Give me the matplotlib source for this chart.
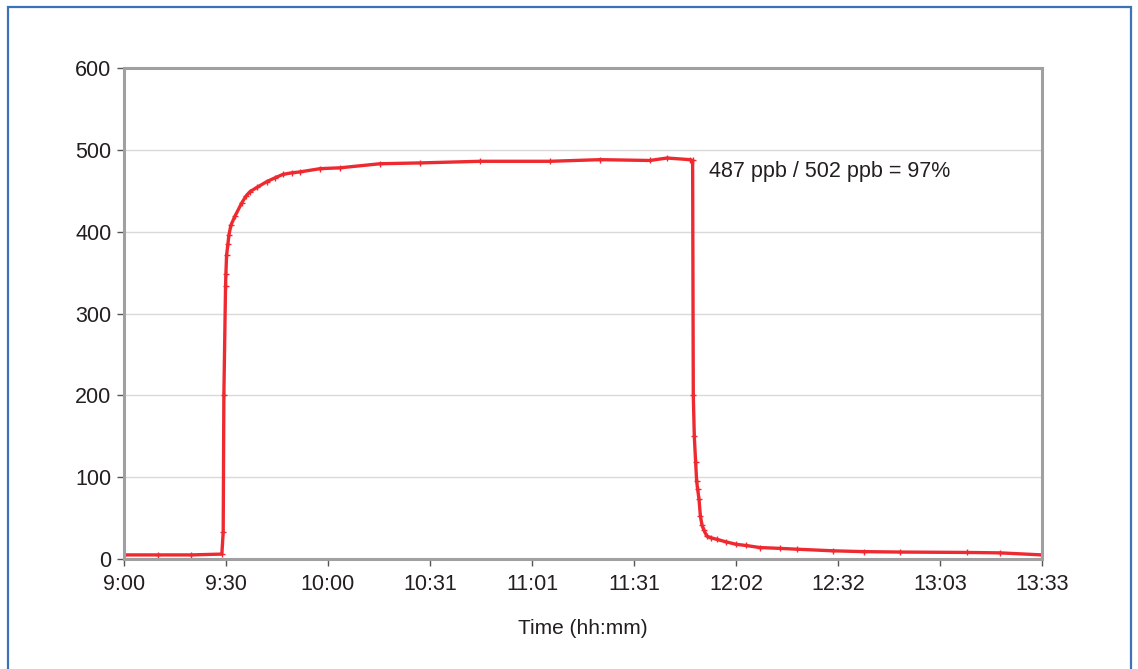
import matplotlib.pyplot as plt
import matplotlib.patches as patches
import numpy as np

# Data: minutes after 9:00 and concentration (ppb)
minutes = [0, 10, 20, 29.1, 29.5, 29.7, 30.2, 30.3, 30.5, 30.9, 31.2, 31.8,
           33.0, 35.0, 36.2, 37.5, 39.5, 42.4, 45.0, 47.3, 50.0, 52.3, 58.3,
           64.2, 76.1, 88.0, 105.9, 126.7, 141.6, 156.4, 161.5, 168.3, 169.1,
           169.3, 169.6, 170.0, 170.3, 170.6, 171.0, 171.4, 171.9, 172.5,
           173.3, 174.5, 176.3, 179.0, 182.0, 185.0, 189.1, 195.0, 200.0,
           210.8, 220.0, 230.8, 250.7, 260.5, 273]
ppb = [5, 5, 5, 6, 33, 200, 334, 348, 371, 385, 396, 408,
       419, 435, 443, 449, 454, 461, 466, 470, 472, 473, 477,
       478, 483, 484, 486, 486, 488, 487, 490, 488, 487,
       200, 150, 118, 95, 85, 73, 53, 41, 35,
       28, 26, 24, 21, 18, 16.5, 14, 13, 12,
       10, 9, 8.5, 8, 7.5, 5]

tick_labels = ['9:00', '9:30', '10:00', '10:31', '11:01', '11:31',
               '12:02', '12:32', '13:03', '13:33']
y_ticks = [0, 100, 200, 300, 400, 500, 600]
annotation = '487 ppb / 502 ppb = 97%'

plt.rcParams['font.family'] = ['Liberation Sans', 'DejaVu Sans']
text_color = '#231f20'
axis_gray = '#a0a0a2'

fig = plt.figure(figsize=(11.38, 6.69), dpi=100)
ax = fig.add_axes([124 / 1138, 1 - 559 / 669, (1042 - 124) / 1138, (559 - 68) / 669])

# Blue frame around the whole chart
fig.patches.append(patches.Rectangle((8 / 1138, -0.02), (1131 - 8) / 1138, 1.02 - 7 / 669,
                                     transform=fig.transFigure, fill=False,
                                     edgecolor='#3d72b8', linewidth=1.6))

ax.plot(minutes, ppb, color='#ee2a30', linewidth=2.4, marker='+',
        markersize=4, markeredgewidth=1, solid_joinstyle='round')

ax.set_xlim(0, 273)
ax.set_ylim(0, 600)
ax.set_xticks(np.linspace(0, 273, len(tick_labels)))
ax.set_xticklabels(tick_labels)
ax.set_yticks(y_ticks)

ax.grid(axis='y', color='#d9d9d9', linewidth=1)
ax.set_axisbelow(True)

for side in ['left', 'right', 'top', 'bottom']:
    ax.spines[side].set_color(axis_gray)
    ax.spines[side].set_linewidth(2.2)

ax.tick_params(axis='both', colors=text_color, labelsize=15.5, length=5, width=1)
ax.tick_params(axis='x', color='#555555', pad=6)
ax.tick_params(axis='y', color='#555555', pad=4)

ax.set_xlabel('Time (hh:mm)', fontsize=15, color=text_color, labelpad=17)

ax.text(174.0, 474, annotation, fontsize=15.5, color=text_color, va='center', ha='left')

fig.savefig('out.png', dpi=100)
